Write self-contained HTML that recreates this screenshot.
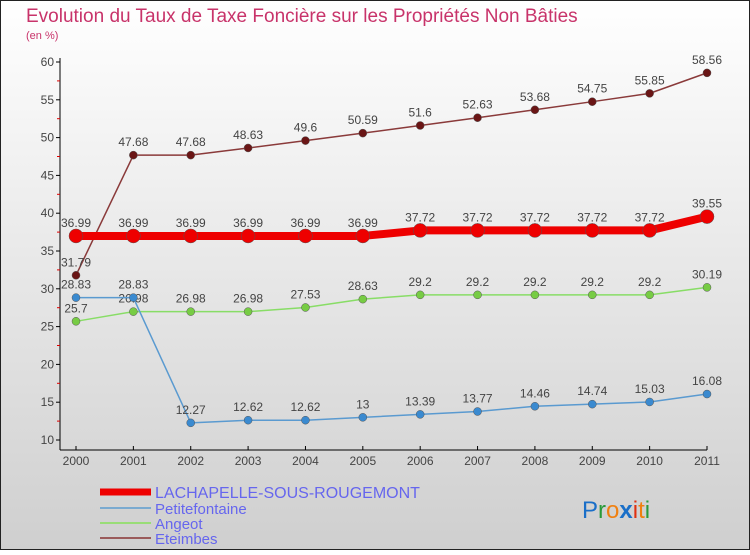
<!DOCTYPE html>
<html><head><meta charset="utf-8"><style>
html,body{margin:0;padding:0}
body{width:750px;height:550px;overflow:hidden;font-family:"Liberation Sans",sans-serif}
</style></head><body>
<svg id="c" width="750" height="550" xmlns="http://www.w3.org/2000/svg">
<defs><linearGradient id="bg" x1="0" y1="0" x2="0" y2="1"><stop offset="0" stop-color="#ffffff"/><stop offset="1" stop-color="#cfcfcf"/></linearGradient></defs>
<rect x="0.5" y="0.5" width="749" height="549" fill="url(#bg)" stroke="#222"/>
<text x="26" y="22" font-size="19" fill="#c8336a">Evolution du Taux de Taxe Foncière sur les Propriétés Non Bâties</text>
<text x="26" y="39" font-size="11" fill="#c8336a">(en %)</text>
<g id="axes"></g><g id="series"></g>
<g>
<line x1="100" y1="492" x2="151" y2="492" stroke="#e00" stroke-width="7"/>
<text x="155" y="498" font-size="16" fill="#6666ee">LACHAPELLE-SOUS-ROUGEMONT</text>
<line x1="100" y1="508" x2="151" y2="508" stroke="#7aaad0" stroke-width="2"/>
<text x="155" y="514" font-size="15" fill="#6666ee">Petitefontaine</text>
<line x1="100" y1="523" x2="151" y2="523" stroke="#99dd77" stroke-width="2"/>
<text x="155" y="529" font-size="15" fill="#6666ee">Angeot</text>
<line x1="100" y1="538" x2="151" y2="538" stroke="#9a5a5a" stroke-width="2"/>
<text x="155" y="544" font-size="15" fill="#6666ee">Eteimbes</text>
</g>
<g font-size="24" font-family="'Liberation Sans',sans-serif">
<text x="582" y="518" fill="#1a6fc8">P<tspan fill="#2a9a3a">r</tspan><tspan fill="#f08010">o</tspan><tspan fill="#1a6fc8" font-weight="bold">x</tspan><tspan fill="#e03010">i</tspan><tspan fill="#f08010">t</tspan><tspan fill="#2a9a3a">i</tspan></text>
</g>
</svg>
<script>
const years=[2000,2001,2002,2003,2004,2005,2006,2007,2008,2009,2010,2011];
const yTicks=[10,15,20,25,30,35,40,45,50,55,60];
const lachapelle=[36.99,36.99,36.99,36.99,36.99,36.99,37.72,37.72,37.72,37.72,37.72,39.55];
const petitefontaine=[28.83,28.83,12.27,12.62,12.62,13,13.39,13.77,14.46,14.74,15.03,16.08];
const angeot=[25.7,26.98,26.98,26.98,27.53,28.63,29.2,29.2,29.2,29.2,29.2,30.19];
const eteimbes=[31.79,47.68,47.68,48.63,49.6,50.59,51.6,52.63,53.68,54.75,55.85,58.56];
const NS='http://www.w3.org/2000/svg';
const X=i=>76+i*(707-76)/(years.length-1);
const Y=v=>440-(v-10)*(440-62)/50;
function mk(p,t,a){const e=document.createElementNS(NS,t);for(const k in a)e.setAttribute(k,a[k]);p.appendChild(e);return e;}
const ax=document.getElementById('axes');
let l=mk(ax,'line',{x1:60,y1:58,x2:60,y2:450,stroke:'#000'});


l=mk(ax,'line',{x1:60,y1:450,x2:707,y2:450,stroke:'#000'});


yTicks.forEach((v,i)=>{
 mk(ax,'line',{x1:56,x2:60,y1:Y(v),y2:Y(v),stroke:'#000'});
 if(i<yTicks.length-1)mk(ax,'line',{x1:57,x2:60,y1:Y(v+2.5),y2:Y(v+2.5),stroke:'#d00'});
 const t=mk(ax,'text',{x:54,y:Y(v)+4,'text-anchor':'end','font-size':12,fill:'#444'});
 t.textContent=v;
 
 
});
years.forEach((y,i)=>{
 mk(ax,'line',{x1:X(i),x2:X(i),y1:446,y2:450,stroke:'#000'});
 const t=mk(ax,'text',{x:X(i),y:465,'text-anchor':'middle','font-size':12,fill:'#444'});
 t.textContent=y;
 
 
});
const sg=document.getElementById('series');
function draw(data,color,w,r,dot,name){
 const g=mk(sg,'g',{});
 
 
 const p=mk(g,'polyline',{points:data.map((v,i)=>X(i)+','+Y(v)).join(' '),fill:'none',stroke:color,'stroke-width':w,'stroke-linejoin':'round'});
 
 
 data.forEach((v,i)=>{
  const c=mk(g,'circle',{cx:X(i),cy:Y(v),r:r,fill:dot,stroke:'#555','stroke-width':0.5});
  
  
  const t=mk(g,'text',{x:X(i),y:Y(v)-9,'text-anchor':'middle','font-size':12,fill:'#444'});
  t.textContent=String(v);
  
  
 });
}
draw(eteimbes,'#8a3a3a',1.5,4,'#6a1515','eteimbes');
draw(angeot,'#88dd66',1.5,4,'#77cc44','angeot');
draw(petitefontaine,'#5a9ad0',1.5,4,'#3a8ad0','petitefontaine');
draw(lachapelle,'#ee0000',8,7,'#ee0000','lachapelle');
</script>
</body></html>
